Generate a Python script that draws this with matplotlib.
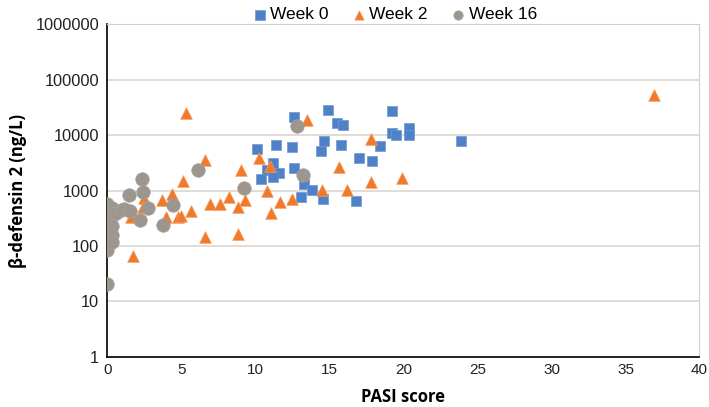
import numpy as np
import matplotlib.pyplot as plt
from matplotlib.ticker import FixedLocator, FuncFormatter

# Week 0 (squares)
wk0_pasi = [14.9, 12.6, 19.2, 15.5, 15.9, 19.2, 19.5, 20.4, 20.4, 23.9,
            10.1, 11.4, 12.5, 14.65, 14.4, 15.8, 18.4, 17.0, 17.85, 11.2,
            10.8, 11.6, 11.15, 10.4, 12.6, 13.3, 13.85, 13.05, 14.55, 16.8, 0.0]
wk0_hbd2 = [28200, 20800, 27400, 16700, 15100, 11000, 10000, 13400, 10000, 7900,
            5500, 6700, 6100, 7800, 5150, 6700, 6300, 3900, 3400, 3100,
            2350, 2050, 1770, 1590, 2500, 1310, 1020, 750, 690, 650, 128]

# Week 2 (triangles)
wk2_pasi = [5.33, 6.6, 5.1, 4.38, 3.67, 2.45, 2.37, 1.58, 3.93, 4.74,
            4.98, 5.65, 6.9, 7.57, 8.2, 8.8, 9.3, 9.0, 6.6, 8.85,
            1.7, 10.26, 10.96, 10.77, 11.63, 12.5, 11.02, 13.46, 17.83, 15.64,
            19.9, 17.83, 14.47, 16.2, 36.9]
wk2_hbd2 = [24900, 3540, 1480, 850, 675, 720, 505, 337, 337, 337,
            347, 433, 565, 565, 770, 510, 675, 2340, 147, 164,
            65, 3900, 2760, 1000, 630, 695, 400, 18600, 8400, 2620,
            1700, 1400, 1020, 1020, 52600]

# Week 16 (circles)
wk16_pasi = [0.0, 0.0, 0.0, 0.0, 0.0, 0.0, 0.0, 0.0, 0.0,
             0.3, 0.3, 0.3, 0.3, 0.3, 0.6, 0.9, 1.1, 1.5,
             2.3, 1.45, 2.4, 2.75, 2.2, 3.75, 4.4, 6.1, 9.2, 12.8, 13.2]
wk16_hbd2 = [560, 430, 330, 250, 190, 140, 110, 85, 21,
             480, 350, 230, 160, 120, 400, 450, 470, 420,
             1590, 830, 950, 480, 295, 240, 550, 2340, 1100, 14500, 1880]

x_ticks = [0, 5, 10, 15, 20, 25, 30, 35, 40]
y_ticks = [1, 10, 100, 1000, 10000, 100000, 1000000]

fig = plt.figure(figsize=(7.09, 4.07), dpi=100)
ax = fig.add_axes([0.1516, 0.1229, 0.835, 0.818])

ax.scatter(wk0_pasi, wk0_hbd2, marker='s', s=55, color='#4f81c7',
           edgecolors='#6f97d2', linewidths=0.5, label='Week 0', zorder=3)
ax.scatter(wk2_pasi, wk2_hbd2, marker='^', s=70, color='#f07a2a',
           edgecolors='#f39a5e', linewidths=0.5, label='Week 2', zorder=4)
ax.scatter(wk16_pasi, wk16_hbd2, marker='o', s=95, color='#9d968f',
           edgecolors='#a8a29b', linewidths=0.5, label='Week 16', zorder=5)

ax.set_yscale('log')
ax.set_xlim(0, 40)
ax.set_ylim(1, 1000000)
ax.xaxis.set_major_locator(FixedLocator(x_ticks))
ax.yaxis.set_major_locator(FixedLocator(y_ticks))
ax.yaxis.set_minor_locator(FixedLocator([]))
ax.yaxis.set_major_formatter(FuncFormatter(lambda v, p: f"{int(round(v))}"))

ax.grid(axis='y', color='#ddd5ce', linewidth=1.2, zorder=0)
ax.set_axisbelow(True)
ax.tick_params(axis='x', length=0, labelsize=11, pad=4, colors='#222222')
ax.tick_params(axis='y', length=0, labelsize=11.8, pad=6, colors='#222222')
for lbl in ax.get_xticklabels() + ax.get_yticklabels():
    lbl.set_family('Liberation Sans')

for side in ['top', 'right']:
    ax.spines[side].set_color('#cfcfcf')
for side in ['left', 'bottom']:
    ax.spines[side].set_color('black')
    ax.spines[side].set_linewidth(1.2)

ax.set_xlabel('PASI score', fontsize=12, fontweight='bold', family='Open Sans', labelpad=8)
ax.set_ylabel('β-defensin 2 (ng/L)', fontsize=12, fontweight='bold', family='Open Sans', labelpad=6)

leg = ax.legend(loc='lower center', bbox_to_anchor=(0.487, 1.005), ncol=3, frameon=False,
                prop={'family': 'Liberation Sans', 'size': 12.5}, handlelength=0.6,
                handletextpad=0.3, columnspacing=1.45, borderaxespad=0, borderpad=0,
                scatterpoints=1)
for h in leg.legend_handles:
    h.set_sizes([45])

fig.savefig('out.png', dpi=100)
